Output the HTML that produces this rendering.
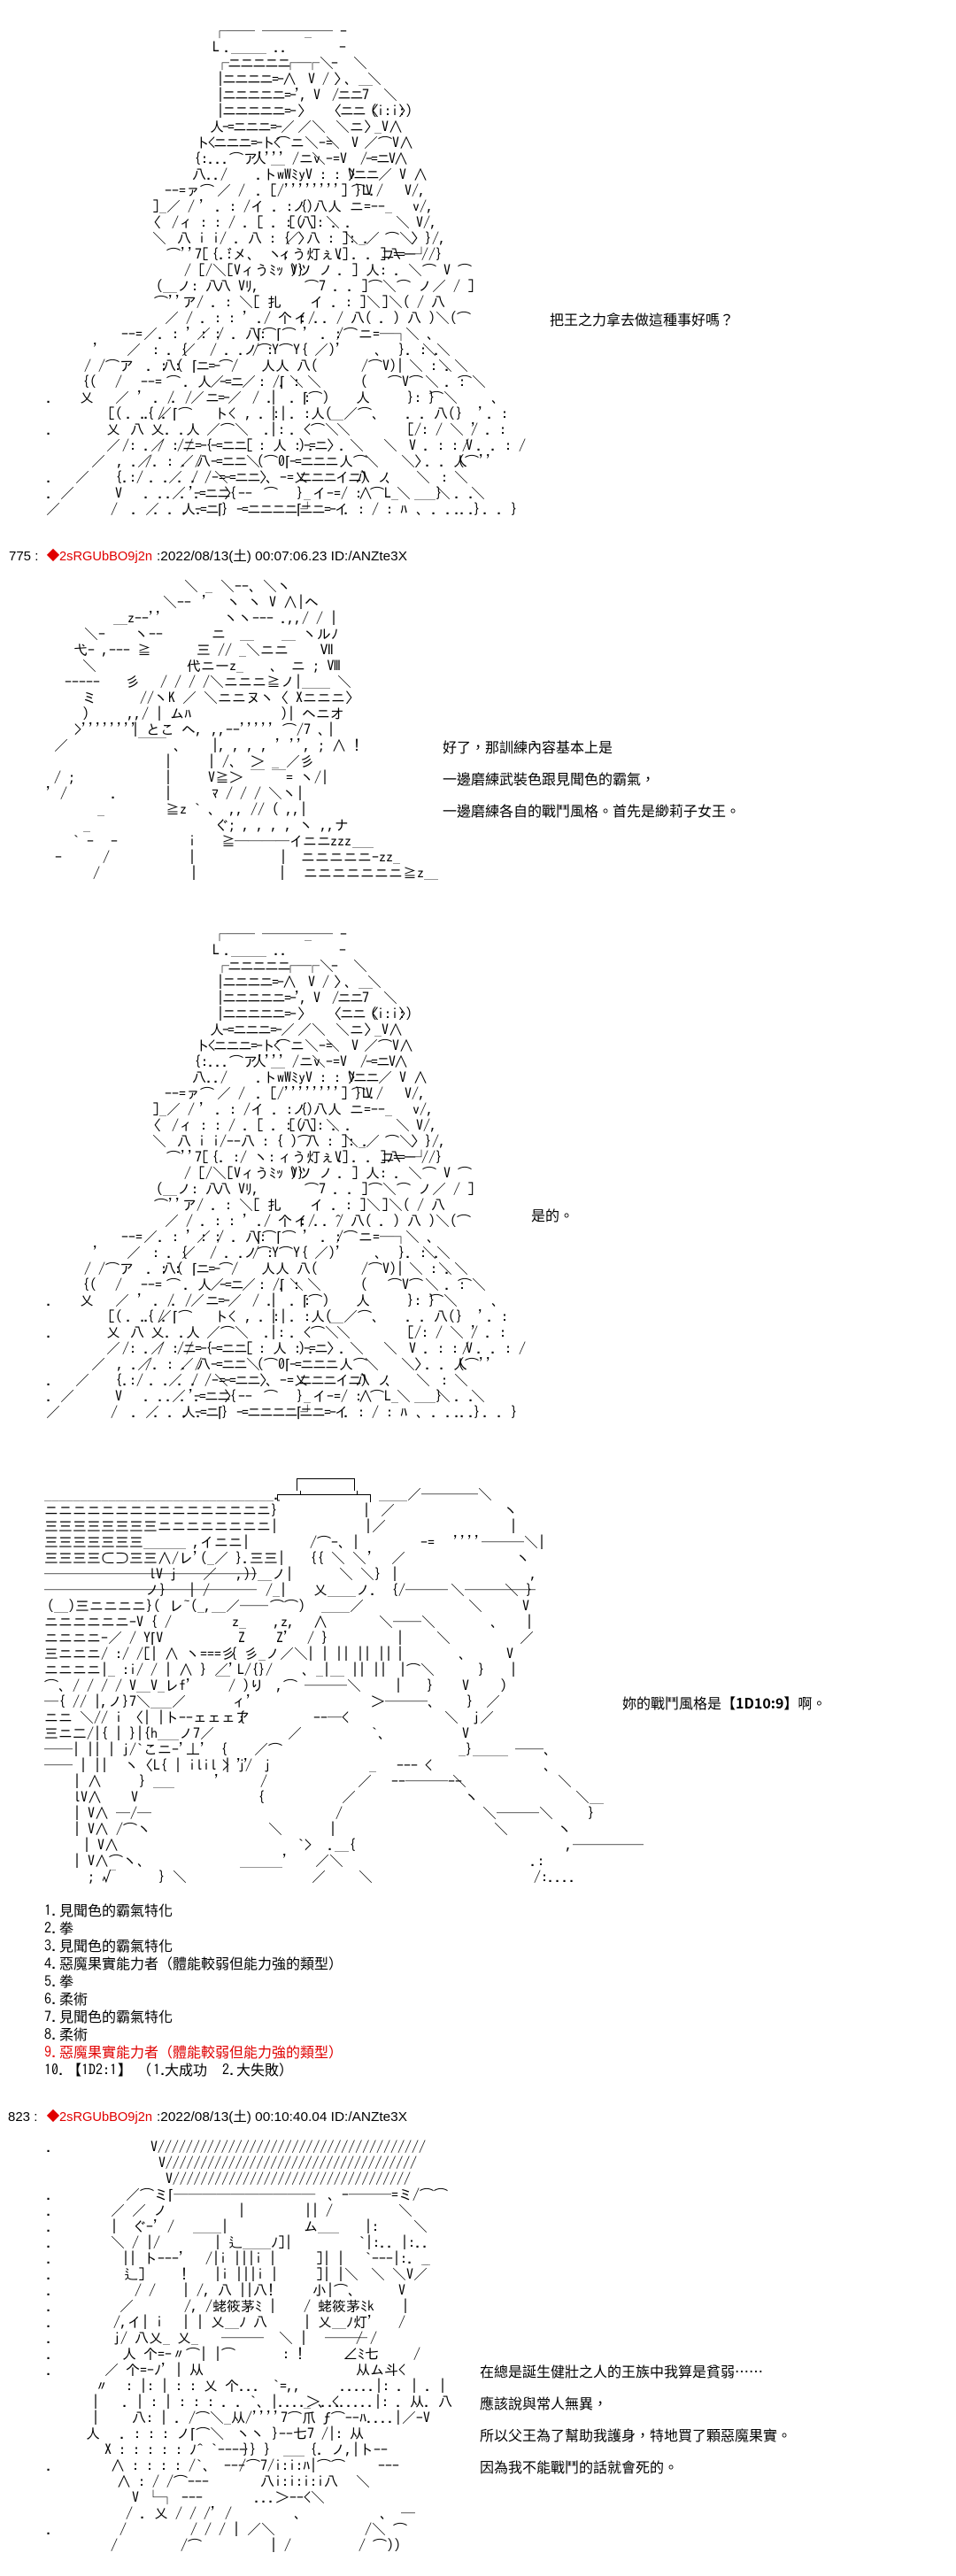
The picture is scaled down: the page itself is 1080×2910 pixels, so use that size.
<!DOCTYPE html>
<html><head><meta charset="utf-8"><style>
html,body{margin:0;padding:0;background:#fff}
svg{display:block}
text{font:16px "IPAGothic","Noto Sans CJK JP",sans-serif;white-space:pre;fill:#000}
.t{font:16px "WenQuanYi Zen Hei","Noto Sans CJK TC",sans-serif}
.h{font:15px "Liberation Sans",sans-serif}
.r{fill:#e00000}
.b{font-weight:bold}
.n{letter-spacing:-2px}
.d{font:16px "IPAGothic",monospace}
</style></head><body>
<svg width="1080" height="2910" viewBox="0 0 1080 2910" xmlns="http://www.w3.org/2000/svg">
<rect width="1080" height="2910" fill="#fff"/>
<!-- AA1 -->
<g>
<text y="41"><tspan x="240">┌── ───── -</tspan><tspan x="344">_</tspan></text>
<text y="59"><tspan x="240">L</tspan><tspan x="253">._____ ..</tspan><tspan x="383">-</tspan></text>
<text y="77"><tspan x="243" class="n">┌ニニニニニ</tspan><tspan x="320">┌─</tspan><tspan x="345">┌＼</tspan><tspan x="374">-</tspan><tspan x="399">＼</tspan></text>
<text y="95"><tspan x="245" class="n">|ニニニニ=-∧</tspan><tspan x="348">V</tspan><tspan x="364">/</tspan><tspan x="377">〉</tspan><tspan x="389">、__</tspan><tspan x="415">＼</tspan></text>
<text y="113"><tspan x="245" class="n">|ニニニニニ=-',</tspan><tspan x="354">V</tspan><tspan x="375" class="n">/ニニ7</tspan><tspan x="433">＼</tspan></text>
<text y="131"><tspan x="245" class="n">|ニニニニニ=-</tspan><tspan x="336">〉</tspan><tspan x="370" class="n">〈ニニ〈</tspan><tspan x="418">(i:i:)</tspan><tspan x="450">〉</tspan></text>
<text y="149"><tspan x="237" class="n">人-=ニニニ=-／</tspan><tspan x="336">／＼</tspan><tspan x="379">＼ニ〉</tspan><tspan x="423">_V∧</tspan></text>
<text y="167"><tspan x="221" class="n">ト&lt;ニニニ=-ト&lt;</tspan><tspan x="312">⌒ニ＼-=</tspan><tspan x="368">＼</tspan><tspan x="397">V</tspan><tspan x="411">／⌒V∧</tspan></text>
<text y="185"><tspan x="219">{:...⌒ア''''</tspan><tspan x="285">人</tspan><tspan x="306">__ /ニv</tspan><tspan x="352">＼-=V</tspan><tspan x="407" class="n">/-=ニV∧</tspan></text>
<text y="203"><tspan x="217">八../</tspan><tspan x="289">.トwWﾐyV : : 〉</tspan><tspan x="393" class="n">Vニニ／</tspan><tspan x="451">V ∧</tspan></text>
<text y="221"><tspan x="186">--=ァ⌒</tspan><tspan x="245">／ /</tspan><tspan x="289">. [/''''''''] }L./</tspan><tspan x="397">⌒V</tspan><tspan x="457">V/,</tspan></text>
<text y="239"><tspan x="172">]_／ /</tspan><tspan x="225">'</tspan><tspan x="243">. : /イ . : {</tspan><tspan x="330">ノ)八人</tspan><tspan x="395">ニ=--</tspan><tspan x="435">_</tspan><tspan x="466">v/,</tspan></text>
<text y="257"><tspan x="166">〈</tspan><tspan x="194">/ィ : : / . [ . : 八</tspan><tspan x="326">[( ]: . .</tspan><tspan x="368">＼</tspan><tspan x="447">＼</tspan><tspan x="470">V/,</tspan></text>
<text y="275"><tspan x="172">＼</tspan><tspan x="200">八 i i/ . 八 : { 〉</tspan><tspan x="322">／ 八 : ]: .</tspan><tspan x="389">＼_／</tspan><tspan x="435">⌒＼</tspan><tspan x="464">〉}/,</tspan></text>
<text y="293"><tspan x="188">⌒''7[</tspan><tspan x="239">{.:゙メ、 ヽ:</tspan><tspan x="314">ィう灯ぇV]</tspan><tspan x="381">. . . ]八</tspan><tspan x="430" class="n">ニ==--┘</tspan><tspan x="476">//}</tspan></text>
<text y="311"><tspan x="208">/ [/＼[Vィうﾐｯ )}</tspan><tspan x="328">Vツ ノ</tspan><tspan x="381">. ] 人: . ＼⌒ V ⌒</tspan></text>
<text y="329"><tspan x="176">(__ノ: 八</tspan><tspan x="245">八 Vﾘ,</tspan><tspan x="344">⌒7 . . ]⌒＼⌒ ノ／ / ]</tspan></text>
<text y="347"><tspan x="174">⌒''ア/ . : ＼[ 扎</tspan><tspan x="350">イ . : ]＼</tspan><tspan x="431">]＼( / 八</tspan></text>
<text y="365"><tspan x="186">／ / . : : ' ./ 个 : .</tspan><tspan x="332">イ/ . / 八( . ) 八 )＼(⌒</tspan></text>
<text y="383"><tspan x="137">--=</tspan><tspan x="162">／</tspan><tspan x="178">. : ' : :</tspan><tspan x="222">／</tspan><tspan x="245">/ . 八:</tspan><tspan x="290">⌈⌒⌈⌒</tspan><tspan x="342">'</tspan><tspan x="362">. :</tspan><tspan x="380">/⌒</tspan><tspan x="405">ニ=─┐</tspan><tspan x="458">＼</tspan><tspan x="482">、</tspan></text>
<text y="401"><tspan x="105">'</tspan><tspan x="143">／</tspan><tspan x="172">: . {</tspan><tspan x="205">／</tspan><tspan x="237">/ . . / :</tspan><tspan x="275">ノ⌒Y⌒Y</tspan><tspan x="340">{</tspan><tspan x="355">／)'</tspan><tspan x="423">、</tspan><tspan x="450">}. : .</tspan><tspan x="477">＼</tspan><tspan x="493">＼</tspan></text>
<text y="419"><tspan x="95">/ /⌒</tspan><tspan x="135">ア</tspan><tspan x="165">. : :</tspan><tspan x="183">八(</tspan><tspan x="217" class="n">⌈ニ=-⌒/</tspan><tspan x="295">人人</tspan><tspan x="335">八(</tspan><tspan x="408">/⌒V)|</tspan><tspan x="462">＼ : .</tspan><tspan x="495">＼</tspan><tspan x="513">＼</tspan></text>
<text y="437"><tspan x="93">{(</tspan><tspan x="130">/</tspan><tspan x="159">--=</tspan><tspan x="188">⌒</tspan><tspan x="207">. 人</tspan><tspan x="237">／</tspan><tspan x="248" class="n">-=ニ</tspan><tspan x="273">／</tspan><tspan x="292">: /⌈</tspan><tspan x="315">. :</tspan><tspan x="327">＼</tspan><tspan x="347">＼</tspan><tspan x="407">(</tspan><tspan x="438">⌒V⌒</tspan><tspan x="480">＼</tspan><tspan x="502">. :</tspan><tspan x="517">⌒＼</tspan></text>
<text y="455"><tspan x="52">.</tspan><tspan x="90">乂</tspan><tspan x="130">／</tspan><tspan x="155">'</tspan><tspan x="173">. /</tspan><tspan x="193">. /</tspan><tspan x="215">／</tspan><tspan x="232" class="n">ニ=-</tspan><tspan x="257">／</tspan><tspan x="285">/ .</tspan><tspan x="305">|</tspan><tspan x="327">. :</tspan><tspan x="342">⌈⌒)</tspan><tspan x="402">人</tspan><tspan x="460">}: }</tspan><tspan x="485">⌒＼</tspan><tspan x="555">、</tspan></text>
<text y="473"><tspan x="122">[(</tspan><tspan x="142">. .{ .</tspan><tspan x="162">. /</tspan><tspan x="178">／</tspan><tspan x="195">⌈⌒</tspan><tspan x="242">ト&lt;</tspan><tspan x="277">,</tspan><tspan x="292">. :|</tspan><tspan x="305">|</tspan><tspan x="327">. :人(</tspan><tspan x="372">__</tspan><tspan x="388">／⌒</tspan><tspan x="420">、</tspan><tspan x="458">. . 八(</tspan><tspan x="515">}</tspan><tspan x="540">'</tspan><tspan x="550">. :</tspan></text>
<text y="491"><tspan x="52">.</tspan><tspan x="120">乂</tspan><tspan x="147">八</tspan><tspan x="170">乂. .人</tspan><tspan x="233">／⌒＼</tspan><tspan x="298">. :</tspan><tspan x="305">|</tspan><tspan x="327">. &lt;⌒＼</tspan><tspan x="380">＼</tspan><tspan x="460">[/: / ＼ '</tspan><tspan x="532">/ . :</tspan></text>
<text y="509"><tspan x="120">／</tspan><tspan x="138">/: . /</tspan><tspan x="170">／ : /</tspan><tspan x="200" class="n">/ニ=-{-=ニニ[</tspan><tspan x="292">: 人 : .</tspan><tspan x="337" class="n">)-=ニ〉.</tspan><tspan x="395">＼</tspan><tspan x="433">＼</tspan><tspan x="462">V . : : V</tspan><tspan x="522">/ . . : /</tspan></text>
<text y="527"><tspan x="103">／</tspan><tspan x="132">, . /</tspan><tspan x="155">／</tspan><tspan x="172">. : . /</tspan><tspan x="203">／</tspan><tspan x="222">八</tspan><tspan x="238" class="n">-=ニニ＼</tspan><tspan x="290">(⌒0⌈</tspan><tspan x="327" class="n">-=ニニニ</tspan><tspan x="383">人⌒</tspan><tspan x="412">＼</tspan><tspan x="453">＼</tspan><tspan x="468">〉</tspan><tspan x="480">. . 人</tspan><tspan x="517">(⌒''</tspan></text>
<text y="545"><tspan x="52">.</tspan><tspan x="85">／</tspan><tspan x="130">{.:/</tspan><tspan x="168">. . . /</tspan><tspan x="190">／</tspan><tspan x="215">. /-=</tspan><tspan x="242">＼</tspan><tspan x="253" class="n">-=ニニ〉</tspan><tspan x="300">、-=乂</tspan><tspan x="337" class="n">ニニニイニ)</tspan><tspan x="402">八 ノ</tspan><tspan x="435">、</tspan><tspan x="470">＼</tspan><tspan x="498">:</tspan><tspan x="513">＼</tspan></text>
<text y="563"><tspan x="52">.</tspan><tspan x="68">／</tspan><tspan x="130">V</tspan><tspan x="162">. . ／</tspan><tspan x="187">. . .</tspan><tspan x="213" class="n">'-=ニニ{</tspan><tspan x="253">〉--</tspan><tspan x="298">⌒</tspan><tspan x="335">}_</tspan><tspan x="353">イ-=/ :</tspan><tspan x="405">∧</tspan><tspan x="418">⌒L_</tspan><tspan x="448">＼</tspan><tspan x="468">___}</tspan><tspan x="493">＼</tspan><tspan x="513">. .</tspan><tspan x="532">＼</tspan></text>
<text y="581"><tspan x="52">／</tspan><tspan x="125">/</tspan><tspan x="148">. ／</tspan><tspan x="173">. . . .</tspan><tspan x="205">人</tspan><tspan x="220" class="n">-=ニ⌈}</tspan><tspan x="267" class="n">-=ニニニニ⌈┘</tspan><tspan x="338" class="n">ニニ=-イ</tspan><tspan x="388">. : / : ﾊ</tspan><tspan x="470">、</tspan><tspan x="487">. . . }</tspan><tspan x="513">. . . . }</tspan></text>
<text class="t" x="621" y="367">把王之力拿去做這種事好嗎？</text>
</g>
<!-- header 1 -->
<text class="h" x="10" y="633">775 :</text>
<text x="52" y="633" style="font-size:16px;fill:#e00000">◆</text>
<text class="h r" x="67" y="633" textLength="105" lengthAdjust="spacingAndGlyphs">2sRGUbBO9j2n</text>
<text class="h" x="177" y="633" textLength="283" lengthAdjust="spacingAndGlyphs">:2022/08/13(土) 00:07:06.23 ID:/ANZte3X</text>
<!-- AA2 -->
<g>
<text y="668"><tspan x="208">＼</tspan><tspan x="232">_</tspan><tspan x="249">＼--、＼ヽ</tspan></text>
<text y="686"><tspan x="184">＼--</tspan><tspan x="228">'</tspan><tspan x="256">ヽ ヽ V ∧|ヘ</tspan></text>
<text y="704"><tspan x="128">__z--''</tspan><tspan x="253">ヽヽ--- .,,/ / |</tspan></text>
<text y="722"><tspan x="95">＼-</tspan><tspan x="152">ヽ--</tspan><tspan x="239">ニ</tspan><tspan x="271">__</tspan><tspan x="318">__ ヽルﾉ</tspan></text>
<text y="740"><tspan x="83">弋- ,--- ≧</tspan><tspan x="222">三 // _＼ニニ</tspan><tspan x="361">Ⅶ</tspan></text>
<text y="758"><tspan x="93">＼</tspan><tspan x="211">代ニーz_</tspan><tspan x="305">、 ニ ; Ⅷ</tspan></text>
<text y="776"><tspan x="73">-----</tspan><tspan x="142">彡</tspan><tspan x="181">/ / / /＼ニニニ≧ノ|____ ＼</tspan></text>
<text y="794"><tspan x="93">ミ</tspan><tspan x="158">//ヽK ／ ＼ニニヌヽ〈 Xニニニ〉</tspan></text>
<text y="812"><tspan x="93">)</tspan><tspan x="144">,,/ | ムﾊ</tspan><tspan x="317">)| ヘニオ</tspan></text>
<text y="830"><tspan x="84">&gt;''''''''</tspan><tspan x="149">| とこ ヘ,</tspan><tspan x="239">,,--''''' ⌒/7 、</tspan><tspan x="370">|</tspan></text>
<text y="848"><tspan x="61">／</tspan><tspan x="156">‾‾ 、</tspan><tspan x="239">|, , , , ' '', ; ∧ !</tspan></text>
<text y="866"><tspan x="186">|</tspan><tspan x="235">| /、 ＞ _ ／彡</tspan></text>
<text y="884"><tspan x="61">/ ;</tspan><tspan x="186">|</tspan><tspan x="235">V≧＞ ‾ ‾= ヽ/|</tspan></text>
<text y="902"><tspan x="52">' /</tspan><tspan x="125">.</tspan><tspan x="186">|</tspan><tspan x="239">ﾏ / / / ＼ヽ|</tspan></text>
<text y="920"><tspan x="110">_</tspan><tspan x="187">≧z ` 、 ,, // ( ,,|</tspan></text>
<text y="938"><tspan x="94">_</tspan><tspan x="242">ぐ; , , , , ヽ ,,ナ</tspan></text>
<text y="956"><tspan x="82">` -</tspan><tspan x="125">-</tspan><tspan x="213">i</tspan><tspan x="250">≧</tspan><tspan x="265" textLength="62">────</tspan><tspan x="327">イ</tspan><tspan x="342">ニ</tspan><tspan x="358">ニ</tspan><tspan x="373">zzz</tspan><tspan x="398">___</tspan></text>
<text y="974"><tspan x="62">-</tspan><tspan x="116">/</tspan><tspan x="213">|</tspan><tspan x="316">|</tspan><tspan x="340">ニニニニニ-zz_</tspan></text>
<text y="992"><tspan x="105">/</tspan><tspan x="215">|</tspan><tspan x="315">|</tspan><tspan x="343">ニニニニニニニ≧z__</tspan></text>
<text class="t" x="500" y="850">好了，那訓練內容基本上是</text>
<text class="t" x="500" y="886">一邊磨練武裝色跟見聞色的霸氣，</text>
<text class="t" x="500" y="922">一邊磨練各自的戰鬥風格。首先是緲莉子女王。</text>
</g>
<!-- AA3 -->
<g transform="translate(0,1020)">
<text y="41"><tspan x="240">┌── ───── -</tspan><tspan x="344">_</tspan></text>
<text y="59"><tspan x="240">L</tspan><tspan x="253">._____ ..</tspan><tspan x="383">-</tspan></text>
<text y="77"><tspan x="243" class="n">┌ニニニニニ</tspan><tspan x="320">┌─</tspan><tspan x="345">┌＼</tspan><tspan x="374">-</tspan><tspan x="399">＼</tspan></text>
<text y="95"><tspan x="245" class="n">|ニニニニ=-∧</tspan><tspan x="348">V</tspan><tspan x="364">/</tspan><tspan x="377">〉</tspan><tspan x="389">、__</tspan><tspan x="415">＼</tspan></text>
<text y="113"><tspan x="245" class="n">|ニニニニニ=-',</tspan><tspan x="354">V</tspan><tspan x="375" class="n">/ニニ7</tspan><tspan x="433">＼</tspan></text>
<text y="131"><tspan x="245" class="n">|ニニニニニ=-</tspan><tspan x="336">〉</tspan><tspan x="370" class="n">〈ニニ〈</tspan><tspan x="418">(i:i:)</tspan><tspan x="450">〉</tspan></text>
<text y="149"><tspan x="237" class="n">人-=ニニニ=-／</tspan><tspan x="336">／＼</tspan><tspan x="379">＼ニ〉</tspan><tspan x="423">_V∧</tspan></text>
<text y="167"><tspan x="221" class="n">ト&lt;ニニニ=-ト&lt;</tspan><tspan x="312">⌒ニ＼-=</tspan><tspan x="368">＼</tspan><tspan x="397">V</tspan><tspan x="411">／⌒V∧</tspan></text>
<text y="185"><tspan x="219">{:...⌒ア''''</tspan><tspan x="285">人</tspan><tspan x="306">__ /ニv</tspan><tspan x="352">＼-=V</tspan><tspan x="407" class="n">/-=ニV∧</tspan></text>
<text y="203"><tspan x="217">八../</tspan><tspan x="289">.トwWﾐyV : : 〉</tspan><tspan x="393" class="n">Vニニ／</tspan><tspan x="451">V ∧</tspan></text>
<text y="221"><tspan x="186">--=ァ⌒</tspan><tspan x="245">／ /</tspan><tspan x="289">. [/''''''''] }L./</tspan><tspan x="397">⌒V</tspan><tspan x="457">V/,</tspan></text>
<text y="239"><tspan x="172">]_／ /</tspan><tspan x="225">'</tspan><tspan x="243">. : /イ . : {</tspan><tspan x="330">ノ)八人</tspan><tspan x="395">ニ=--</tspan><tspan x="435">_</tspan><tspan x="466">v/,</tspan></text>
<text y="257"><tspan x="166">〈</tspan><tspan x="194">/ィ : : / . [ . : 八</tspan><tspan x="326">[( ]: . .</tspan><tspan x="368">＼</tspan><tspan x="447">＼</tspan><tspan x="470">V/,</tspan></text>
<text y="275"><tspan x="172">＼</tspan><tspan x="200">八 i i/--八 : { )⌒</tspan><tspan x="345">八 : ]: .</tspan><tspan x="389">＼_／</tspan><tspan x="435">⌒＼</tspan><tspan x="464">〉}/,</tspan></text>
<text y="293"><tspan x="188">⌒''7[</tspan><tspan x="239">{. :/ ヽ:</tspan><tspan x="314">ィう灯ぇV]</tspan><tspan x="381">. . . ]八</tspan><tspan x="430" class="n">ニ==--┘</tspan><tspan x="476">//}</tspan></text>
<text y="311"><tspan x="208">/ [/＼[Vィうﾐｯ )}</tspan><tspan x="328">Vツ ノ</tspan><tspan x="381">. ] 人: . ＼⌒ V ⌒</tspan></text>
<text y="329"><tspan x="176">(__ノ: 八</tspan><tspan x="245">八 Vﾘ,</tspan><tspan x="344">⌒7 . . ]⌒＼⌒ ノ／ / ]</tspan></text>
<text y="347"><tspan x="174">⌒''ア/ . : ＼[ 扎</tspan><tspan x="350">イ . : ]＼</tspan><tspan x="431">]＼( / 八</tspan></text>
<text y="365"><tspan x="186">／ / . : : ' ./ 个 : .  ^</tspan><tspan x="332">イ/ . / 八( . ) 八 )＼(⌒</tspan></text>
<text y="383"><tspan x="137">--=</tspan><tspan x="162">／</tspan><tspan x="178">. : ' : :</tspan><tspan x="222">／</tspan><tspan x="245">/ . 八:</tspan><tspan x="290">⌈⌒⌈⌒</tspan><tspan x="342">'</tspan><tspan x="362">. :</tspan><tspan x="380">/⌒</tspan><tspan x="405">ニ=─┐</tspan><tspan x="458">＼</tspan><tspan x="482">、</tspan></text>
<text y="401"><tspan x="105">'</tspan><tspan x="143">／</tspan><tspan x="172">: . {</tspan><tspan x="205">／</tspan><tspan x="237">/ . . / :</tspan><tspan x="275">ノ⌒Y⌒Y</tspan><tspan x="340">{</tspan><tspan x="355">／)'</tspan><tspan x="423">、</tspan><tspan x="450">}. : .</tspan><tspan x="477">＼</tspan><tspan x="493">＼</tspan></text>
<text y="419"><tspan x="95">/ /⌒</tspan><tspan x="135">ア</tspan><tspan x="165">. : :</tspan><tspan x="183">八(</tspan><tspan x="217" class="n">⌈ニ=-⌒/</tspan><tspan x="295">人人</tspan><tspan x="335">八(</tspan><tspan x="408">/⌒V)|</tspan><tspan x="462">＼ : .</tspan><tspan x="495">＼</tspan><tspan x="513">＼</tspan></text>
<text y="437"><tspan x="93">{(</tspan><tspan x="130">/</tspan><tspan x="159">--=</tspan><tspan x="188">⌒</tspan><tspan x="207">. 人</tspan><tspan x="237">／</tspan><tspan x="248" class="n">-=ニ</tspan><tspan x="273">／</tspan><tspan x="292">: /⌈</tspan><tspan x="315">. :</tspan><tspan x="327">＼</tspan><tspan x="347">＼</tspan><tspan x="407">(</tspan><tspan x="438">⌒V⌒</tspan><tspan x="480">＼</tspan><tspan x="502">. :</tspan><tspan x="517">⌒＼</tspan></text>
<text y="455"><tspan x="52">.</tspan><tspan x="90">乂</tspan><tspan x="130">／</tspan><tspan x="155">'</tspan><tspan x="173">. /</tspan><tspan x="193">. /</tspan><tspan x="215">／</tspan><tspan x="232" class="n">ニ=-</tspan><tspan x="257">／</tspan><tspan x="285">/ .</tspan><tspan x="305">|</tspan><tspan x="327">. :</tspan><tspan x="342">⌈⌒)</tspan><tspan x="402">人</tspan><tspan x="460">}: }</tspan><tspan x="485">⌒＼</tspan><tspan x="555">、</tspan></text>
<text y="473"><tspan x="122">[(</tspan><tspan x="142">. .{ .</tspan><tspan x="162">. /</tspan><tspan x="178">／</tspan><tspan x="195">⌈⌒</tspan><tspan x="242">ト&lt;</tspan><tspan x="277">,</tspan><tspan x="292">. :|</tspan><tspan x="305">|</tspan><tspan x="327">. :人(</tspan><tspan x="372">__</tspan><tspan x="388">／⌒</tspan><tspan x="420">、</tspan><tspan x="458">. . 八(</tspan><tspan x="515">}</tspan><tspan x="540">'</tspan><tspan x="550">. :</tspan></text>
<text y="491"><tspan x="52">.</tspan><tspan x="120">乂</tspan><tspan x="147">八</tspan><tspan x="170">乂. .人</tspan><tspan x="233">／⌒＼</tspan><tspan x="298">. :</tspan><tspan x="305">|</tspan><tspan x="327">. &lt;⌒＼</tspan><tspan x="380">＼</tspan><tspan x="460">[/: / ＼ '</tspan><tspan x="532">/ . :</tspan></text>
<text y="509"><tspan x="120">／</tspan><tspan x="138">/: . /</tspan><tspan x="170">／ : /</tspan><tspan x="200" class="n">/ニ=-{-=ニニ[</tspan><tspan x="292">: 人 : .</tspan><tspan x="337" class="n">)-=ニ〉.</tspan><tspan x="395">＼</tspan><tspan x="433">＼</tspan><tspan x="462">V . : : V</tspan><tspan x="522">/ . . : /</tspan></text>
<text y="527"><tspan x="103">／</tspan><tspan x="132">, . /</tspan><tspan x="155">／</tspan><tspan x="172">. : . /</tspan><tspan x="203">／</tspan><tspan x="222">八</tspan><tspan x="238" class="n">-=ニニ＼</tspan><tspan x="290">(⌒0⌈</tspan><tspan x="327" class="n">-=ニニニ</tspan><tspan x="383">人⌒</tspan><tspan x="412">＼</tspan><tspan x="453">＼</tspan><tspan x="468">〉</tspan><tspan x="480">. . 人</tspan><tspan x="517">(⌒''</tspan></text>
<text y="545"><tspan x="52">.</tspan><tspan x="85">／</tspan><tspan x="130">{.:/</tspan><tspan x="168">. . . /</tspan><tspan x="190">／</tspan><tspan x="215">. /-=</tspan><tspan x="242">＼</tspan><tspan x="253" class="n">-=ニニ〉</tspan><tspan x="300">、-=乂</tspan><tspan x="337" class="n">ニニニイニ)</tspan><tspan x="402">八 ノ</tspan><tspan x="435">、</tspan><tspan x="470">＼</tspan><tspan x="498">:</tspan><tspan x="513">＼</tspan></text>
<text y="563"><tspan x="52">.</tspan><tspan x="68">／</tspan><tspan x="130">V</tspan><tspan x="162">. . ／</tspan><tspan x="187">. . .</tspan><tspan x="213" class="n">'-=ニニ{</tspan><tspan x="253">〉--</tspan><tspan x="298">⌒</tspan><tspan x="335">}_</tspan><tspan x="353">イ-=/ :</tspan><tspan x="405">∧</tspan><tspan x="418">⌒L_</tspan><tspan x="448">＼</tspan><tspan x="468">___}</tspan><tspan x="493">＼</tspan><tspan x="513">. .</tspan><tspan x="532">＼</tspan></text>
<text y="581"><tspan x="52">／</tspan><tspan x="125">/</tspan><tspan x="148">. ／</tspan><tspan x="173">. . . .</tspan><tspan x="205">人</tspan><tspan x="220" class="n">-=ニ⌈}</tspan><tspan x="267" class="n">-=ニニニニ⌈┘</tspan><tspan x="338" class="n">ニニ=-イ</tspan><tspan x="388">. : / : ﾊ</tspan><tspan x="470">、</tspan><tspan x="487">. . . }</tspan><tspan x="513">. . . . }</tspan></text>
</g>
<text class="t" x="600" y="1379">是的。</text>
<!-- AA4 -->
<g>
<path d="M335.5 1684V1670.5H400.5V1684M339.5 1684V1688M403.5 1684V1688M316 1695H313.5V1688.5H418.5V1697" fill="none" stroke="#000"/>
<text y="1694"><tspan x="50" textLength="259">________________________________</tspan><tspan x="309">.</tspan><tspan x="428">____／────＼</tspan></text>
<text y="1712"><tspan x="50">ニニニニニニニニニニニニニニニニ}</tspan><tspan x="410">|</tspan><tspan x="430">／</tspan><tspan x="569">ヽ</tspan></text>
<text y="1730"><tspan x="50">三三三三三三三三ニニニニニニニニ|</tspan><tspan x="412">|／</tspan><tspan x="576">|</tspan></text>
<text y="1748"><tspan x="50">三三三三三三三______ ,イニニ|</tspan><tspan x="350">/⌒-、|</tspan><tspan x="475">-=</tspan><tspan x="512">''''───＼|</tspan></text>
<text y="1766"><tspan x="50">三三三三⊂⊃三三∧/レ'(_／ }.三三|</tspan><tspan x="350">{{ ＼ ＼</tspan><tspan x="415">'</tspan><tspan x="442">／</tspan><tspan x="583">ヽ</tspan></text>
<text y="1784"><tspan x="50">───────────────</tspan><tspan x="168">lV j</tspan><tspan x="229">／</tspan><tspan x="267">,))__ノ|</tspan><tspan x="383">＼ ＼}</tspan><tspan x="442">|</tspan><tspan x="599">,</tspan></text>
<text y="1802"><tspan x="50">───────────────</tspan><tspan x="164">ノ}</tspan><tspan x="213">| /</tspan><tspan x="300">/_|</tspan><tspan x="354">乂____ノ.</tspan><tspan x="442">{/───</tspan><tspan x="509">＼─────</tspan><tspan x="570">＼ }</tspan></text>
<text y="1820"><tspan x="53">(__)三ニニニニ}(</tspan><tspan x="191">レ~(_,__／──</tspan><tspan x="305">⌒⌒)</tspan><tspan x="363">____／</tspan><tspan x="529">＼</tspan><tspan x="590">V</tspan></text>
<text y="1838"><tspan x="50">ニニニニニニ-V { /</tspan><tspan x="262">z_</tspan><tspan x="309">,z,</tspan><tspan x="354">∧</tspan><tspan x="428">＼</tspan><tspan x="444">──＼</tspan><tspan x="554">、</tspan><tspan x="594">|</tspan></text>
<text y="1856"><tspan x="50">ニニニニ-／ / Y⌈V</tspan><tspan x="269">Z</tspan><tspan x="312">Z'</tspan><tspan x="347">/ }</tspan><tspan x="448">|</tspan><tspan x="493">＼</tspan><tspan x="587">／</tspan></text>
<text y="1874"><tspan x="50">三ニニニ/ :/ /[| ∧ ヽ===彡</tspan><tspan x="260">{ 彡_ノ／＼</tspan><tspan x="347">| | || || ||</tspan><tspan x="448">|</tspan><tspan x="518">、</tspan><tspan x="572">V</tspan></text>
<text y="1892"><tspan x="50">ニニニニ|_ :i/ / | ∧ } ／'</tspan><tspan x="244">__ L/{}/</tspan><tspan x="341">、_|__ || ||</tspan><tspan x="451">|⌒＼</tspan><tspan x="540">}</tspan><tspan x="576">|</tspan></text>
<text y="1910"><tspan x="50">⌒、/ / / / V__V_レf'</tspan><tspan x="258">/ )り</tspan><tspan x="312">,⌒ ───＼</tspan><tspan x="446">|</tspan><tspan x="482">}</tspan><tspan x="522">V</tspan><tspan x="565">)</tspan></text>
<text y="1928"><tspan x="50">─{ // |,ノ}7＼___／</tspan><tspan x="262">ィ'</tspan><tspan x="419">＞───、</tspan><tspan x="527">}</tspan><tspan x="549">／</tspan></text>
<text y="1946"><tspan x="50">ニニ ＼// i 〈| |ト--ェェェア</tspan><tspan x="269">{</tspan><tspan x="354">--─&lt;</tspan><tspan x="502">＼</tspan><tspan x="534">j／</tspan></text>
<text y="1964"><tspan x="50">三ニ二/|{ | }|{h___ノ7／</tspan><tspan x="325">／</tspan><tspan x="419">`、</tspan><tspan x="522">V</tspan></text>
<text y="1982"><tspan x="50">──| || | j/`こニ-'⊥'</tspan><tspan x="249">{</tspan><tspan x="287">／⌒</tspan><tspan x="518">_}_____ ──、</tspan></text>
<text y="2000"><tspan x="50">── | ||</tspan><tspan x="141">ヽ〈L{ | ilil | j/</tspan><tspan x="251">&gt; ''</tspan><tspan x="298">j</tspan><tspan x="417">_</tspan><tspan x="448">--- &lt;</tspan><tspan x="614">、</tspan></text>
<text y="2018"><tspan x="83">| ∧</tspan><tspan x="157">} ___</tspan><tspan x="242">'</tspan><tspan x="294">/</tspan><tspan x="404">／</tspan><tspan x="442">--───--</tspan><tspan x="511">＼</tspan><tspan x="630">＼</tspan></text>
<text y="2036"><tspan x="83">lV∧</tspan><tspan x="148">V</tspan><tspan x="291">{</tspan><tspan x="386">／</tspan><tspan x="525">ヽ</tspan><tspan x="650">＼__</tspan></text>
<text y="2054"><tspan x="83">| V∧ ─/─</tspan><tspan x="379">/</tspan><tspan x="545">＼</tspan><tspan x="561">───＼</tspan><tspan x="664">}</tspan></text>
<text y="2072"><tspan x="83">| V∧ /⌒ヽ</tspan><tspan x="303">＼</tspan><tspan x="372">|</tspan><tspan x="558">＼</tspan><tspan x="630">ヽ</tspan></text>
<text y="2090"><tspan x="94">| V∧</tspan><tspan x="336">`&gt;</tspan><tspan x="370">.__{</tspan><tspan x="639">,─────</tspan></text>
<text y="2108"><tspan x="83">| V∧⌒ヽ、</tspan><tspan x="271">______'</tspan><tspan x="356">／＼</tspan><tspan x="599">.:</tspan></text>
<text y="2126"><tspan x="99">; √</tspan><tspan x="179">} ＼</tspan><tspan x="352">／</tspan><tspan x="405">＼</tspan><tspan x="603">/:....</tspan></text>
<text class="t" x="703" y="1930">妳的戰鬥風格是<tspan class="b">【1D10:9】</tspan>啊。</text>
</g>
<!-- list -->
<g>
<text y="2164"><tspan x="50" class="d">1.</tspan><tspan x="67" class="t">見聞色的霸氣特化</tspan></text>
<text y="2184"><tspan x="50" class="d">2.</tspan><tspan x="67" class="t">拳</tspan></text>
<text y="2204"><tspan x="50" class="d">3.</tspan><tspan x="67" class="t">見聞色的霸氣特化</tspan></text>
<text y="2224"><tspan x="50" class="d">4.</tspan><tspan x="67" class="t">惡魔果實能力者（體能較弱但能力強的類型）</tspan></text>
<text y="2244"><tspan x="50" class="d">5.</tspan><tspan x="67" class="t">拳</tspan></text>
<text y="2264"><tspan x="50" class="d">6.</tspan><tspan x="67" class="t">柔術</tspan></text>
<text y="2284"><tspan x="50" class="d">7.</tspan><tspan x="67" class="t">見聞色的霸氣特化</tspan></text>
<text y="2304"><tspan x="50" class="d">8.</tspan><tspan x="67" class="t">柔術</tspan></text>
<text y="2324" class="r"><tspan x="50" class="d r">9.</tspan><tspan x="67" class="t r">惡魔果實能力者（體能較弱但能力強的類型）</tspan></text>
<text y="2344"><tspan x="50" class="d">10.</tspan><tspan x="76" class="t b">【</tspan><tspan x="92" class="d b">1D2:1</tspan><tspan x="133" class="t b">】</tspan><tspan x="155" class="t">（</tspan><tspan x="173" class="d">1.</tspan><tspan x="186" class="t">大成功</tspan><tspan x="251" class="d">2.</tspan><tspan x="267" class="t">大失敗）</tspan></text>
</g>
<!-- header 2 -->
<text class="h" x="9" y="2396">823 :</text>
<text x="52" y="2396" style="font-size:16px;fill:#e00000">◆</text>
<text class="h r" x="67" y="2396" textLength="105" lengthAdjust="spacingAndGlyphs">2sRGUbBO9j2n</text>
<text class="h" x="177" y="2396" textLength="283" lengthAdjust="spacingAndGlyphs">:2022/08/13(土) 00:10:40.04 ID:/ANZte3X</text>
<!-- AA5 -->
<g>
<text y="2431"><tspan x="52">.</tspan><tspan x="170" textLength="311">V//////////////////////////////////////</tspan></text>
<text y="2449"><tspan x="179" textLength="292">V////////////////////////////////////</tspan></text>
<text y="2467"><tspan x="187" textLength="277">V//////////////////////////////////</tspan></text>
<text y="2485"><tspan x="52">.</tspan><tspan x="142">／⌒ミ⌈──────────</tspan><tspan x="370">、-───=ミ/⌒⌒</tspan></text>
<text y="2503"><tspan x="52">.</tspan><tspan x="125">／ ／ ノ</tspan><tspan x="269">|</tspan><tspan x="344">|| /</tspan><tspan x="450">＼</tspan></text>
<text y="2521"><tspan x="52">.</tspan><tspan x="125">|  ぐ-' /</tspan><tspan x="218">____|</tspan><tspan x="343">ム___</tspan><tspan x="412">|:</tspan><tspan x="467">＼</tspan></text>
<text y="2539"><tspan x="52">.</tspan><tspan x="125">＼ / |/</tspan><tspan x="242">| 辶____ﾉ]|</tspan><tspan x="405">`|:.. |:..</tspan></text>
<text y="2557"><tspan x="52">.</tspan><tspan x="138">|| ト---'</tspan><tspan x="232">/|i |||i |</tspan><tspan x="357">]| |</tspan><tspan x="412">`---|:. _</tspan><tspan x="478">_</tspan></text>
<text y="2575"><tspan x="52">.</tspan><tspan x="140">辶]</tspan><tspan x="204">!</tspan><tspan x="242">|i |||i |</tspan><tspan x="357">]| |＼</tspan><tspan x="419">＼ ＼V／</tspan></text>
<text y="2593"><tspan x="52">.</tspan><tspan x="152">/ /</tspan><tspan x="206">| /, 八 ||八!</tspan><tspan x="353">小|⌒、</tspan><tspan x="450">V</tspan></text>
<text y="2611"><tspan x="52">.</tspan><tspan x="135">／</tspan><tspan x="208">/, /蛯筱茅ﾐ |</tspan><tspan x="343">/ 蛯筱茅ﾐk</tspan><tspan x="454">|</tspan></text>
<text y="2629"><tspan x="52">.</tspan><tspan x="128">/,イ| i</tspan><tspan x="206">| | 乂__ﾉ 八</tspan><tspan x="343">| 乂__ﾉ灯'</tspan><tspan x="450">/</tspan></text>
<text y="2647"><tspan x="52">.</tspan><tspan x="128">j/ 八乂_ 乂_</tspan><tspan x="250">───</tspan><tspan x="315">＼ |</tspan><tspan x="367">───</tspan><tspan x="402">/ /</tspan></text>
<text y="2665"><tspan x="52">.</tspan><tspan x="138">人 个=-〃⌒| |⌒</tspan><tspan x="319">: !</tspan><tspan x="388">∠ﾐ七</tspan><tspan x="467">/</tspan></text>
<text y="2683"><tspan x="52">.</tspan><tspan x="118">／ 个=-ﾉ' | 从</tspan><tspan x="402">从ム斗&lt;</tspan></text>
<text y="2701"><tspan x="107">〃</tspan><tspan x="142">: |: | : : 乂 个...</tspan><tspan x="308">`=,,</tspan><tspan x="384">.....|: . | . |</tspan></text>
<text y="2719"><tspan x="104">|</tspan><tspan x="138">. | : | : : : . . `、|....＞...</tspan><tspan x="343">_ 、&lt;.....|: . 从. 八</tspan></text>
<text y="2737"><tspan x="104">|</tspan><tspan x="149">八: | . /⌒＼_从/''''7⌒爪 ƒ⌒--ﾊ....|／-V</tspan></text>
<text y="2755"><tspan x="97">人</tspan><tspan x="135">. : : : ノ⌈⌒＼</tspan><tspan x="267">ヽヽ }--七7 /|: 从</tspan></text>
<text y="2773"><tspan x="118">X : : : : : ﾉ^ `----</tspan><tspan x="274">}} }</tspan><tspan x="320">___</tspan><tspan x="350">{. ノ,|ト--</tspan></text>
<text y="2791"><tspan x="52">.</tspan><tspan x="125">∧ : : : : /`、 ---</tspan><tspan x="270">/⌒7/i:i:ﾊ|⌒⌒</tspan><tspan x="427">---</tspan></text>
<text y="2809"><tspan x="132">∧ : / /⌒---</tspan><tspan x="294">八i:i:i:i八</tspan><tspan x="402">＼</tspan></text>
<text y="2827"><tspan x="149">V └┐ ---</tspan><tspan x="287">...＞--&lt;＼</tspan></text>
<text y="2845"><tspan x="142">/ . 乂 / / /' /</tspan><tspan x="332">、</tspan><tspan x="429">、 ─</tspan></text>
<text y="2863"><tspan x="52">.</tspan><tspan x="135">/</tspan><tspan x="215">/ / / | ／＼</tspan><tspan x="412">/＼ ⌒</tspan></text>
<text y="2881"><tspan x="125">/</tspan><tspan x="204">/⌒</tspan><tspan x="305">| /</tspan><tspan x="405">/ ⌒))</tspan></text>
<text class="t" x="542" y="2685">在總是誕生健壯之人的王族中我算是貧弱……</text>
<text class="t" x="542" y="2721">應該說與常人無異，</text>
<text class="t" x="542" y="2757">所以父王為了幫助我護身，特地買了顆惡魔果實。</text>
<text class="t" x="542" y="2793">因為我不能戰鬥的話就會死的。</text>
</g>
</svg>
</body></html>
